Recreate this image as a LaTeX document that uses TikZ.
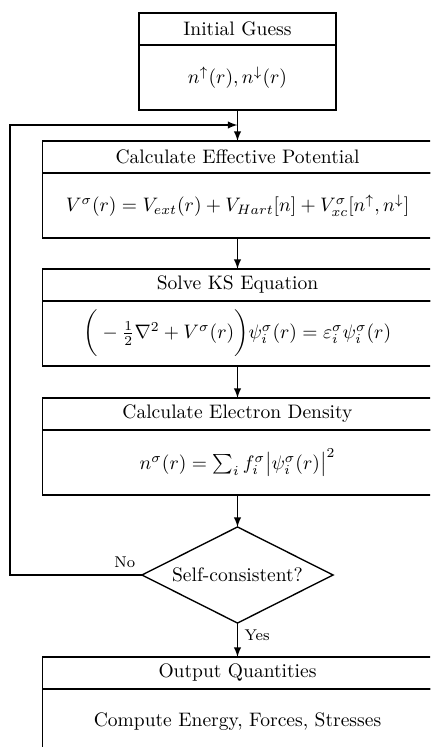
\documentclass[tikz,border=0pt]{standalone}
\usepackage{amsmath, amssymb}
\usetikzlibrary{arrows, shapes, positioning}

\begin{document}
\begin{tikzpicture}[x=0.018cm, y=-0.018cm,
		>=latex,   % arrow tips
		line width=0.7pt,
		boxhead/.style={draw, rectangle, minimum width=#1, minimum height=0.576cm, inner sep=0pt, outer sep=0pt},
		boxhead/.default=7.02cm,
		boxbody/.style={draw, rectangle, minimum width=#1, minimum height=1.17cm, inner sep=0pt, outer sep=0pt},
		boxbody/.default=7.02cm,
		decision/.style={draw, diamond, aspect=2, minimum width=3.44cm, minimum height=1.73cm, inner sep=0pt, outer sep=0pt},
		divider/.style={line width=1.4pt},
		lbl/.style={font=\footnotesize}]
	% picture area
	\useasboundingbox (0,0) rectangle (430,747);
	\clip (0,0) rectangle (430,747);
	% start
	\node[boxhead=3.546cm, anchor=north] (init-h) at (237.5,13) {Initial Guess};
	\node[boxbody=3.546cm, below=0pt of init-h] (init-b) {$n^\uparrow(r), n^\downarrow(r)$};
	% effective potential
	\node[boxhead, anchor=north] (pot-h) at (237.5,141) {Calculate Effective Potential};
	\node[boxbody, below=0pt of pot-h] (pot-b) {$V^\sigma(r) = V_{ext}(r) + V_{Hart}[n] + V^\sigma_{xc}[n^\uparrow, n^\downarrow]$};
	% Kohn-Sham equation
	\node[boxhead, anchor=north] (ks-h) at (237.5,269) {Solve KS Equation};
	\node[boxbody, below=0pt of ks-h] (ks-b) {$\bigg(-\frac{1}{2}\nabla^2 + V^\sigma(r)\bigg)\psi^\sigma_i(r) = \varepsilon^\sigma_i\psi^\sigma_i(r)$};
	% density
	\node[boxhead, anchor=north] (dens-h) at (237.5,398) {Calculate Electron Density};
	\node[boxbody, below=0pt of dens-h] (dens-b) {$n^\sigma(r) = \sum_i f^\sigma_i \big|\psi^\sigma_i(r)\big|^2$};
	% convergence test
	\node[decision] (check) at (237.5,575) {Self-consistent?};
	% output
	\node[boxhead, anchor=north] (out-h) at (237.5,657) {Output Quantities};
	\node[boxbody, below=0pt of out-h] (out-b) {Compute Energy, Forces, Stresses};
	% thick lines under the headers
	\foreach \n in {init,pot,ks,dens,out}
		\draw[divider] (\n-h.south west) -- (\n-h.south east);
	% connectors
	\coordinate (merge) at (237.5,125);
	\draw[->] (init-b) -- (pot-h);
	\draw[->] (pot-b) -- (ks-h);
	\draw[->] (ks-b) -- (dens-h);
	\draw[->] (dens-b) -- (check);
	\draw[->] (check) -- node[lbl, right, pos=0.35] {Yes} (out-h);
	\draw[->] (check.west) -- node[lbl, above, pos=0.13] {No} ++(-132,0) |- (merge);
\end{tikzpicture}
\end{document}
